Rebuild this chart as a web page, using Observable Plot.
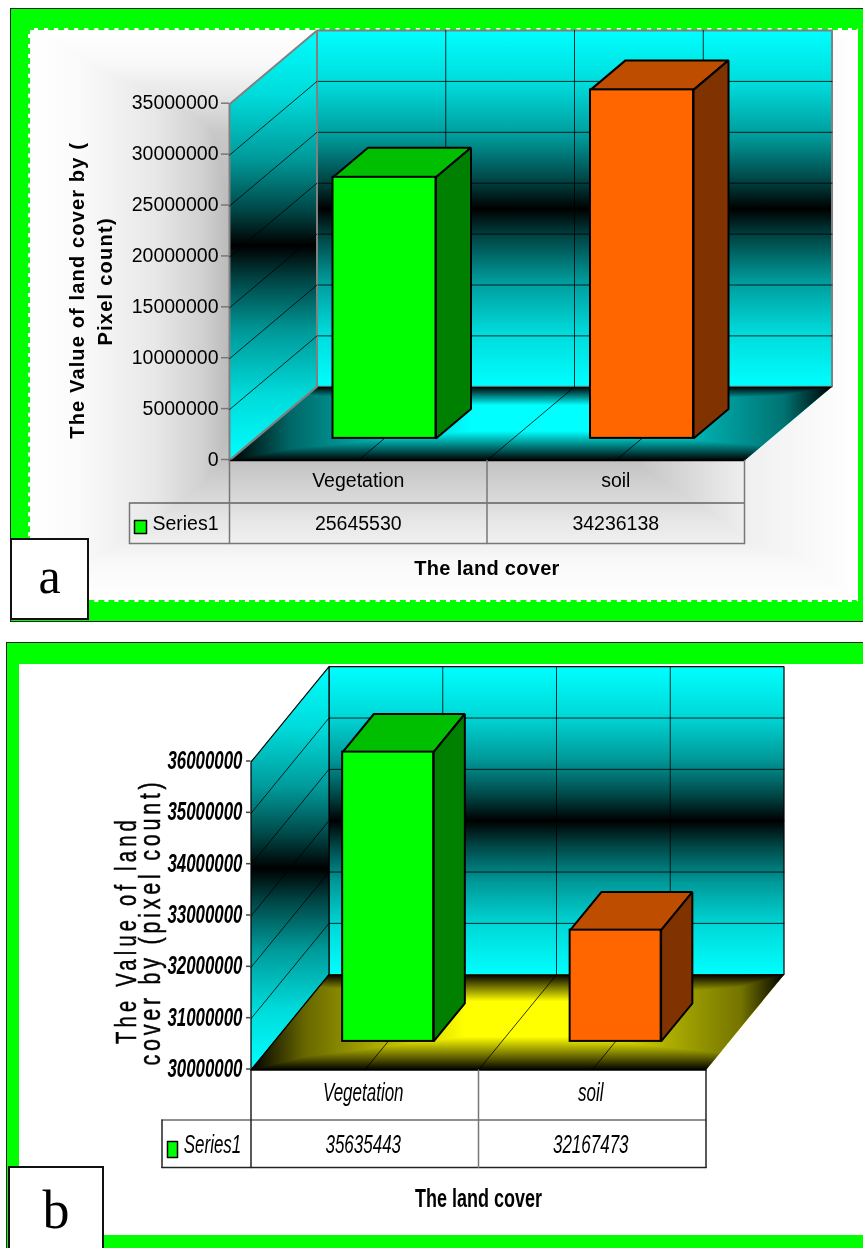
<!DOCTYPE html>
<html>
<head>
<meta charset="utf-8">
<script src="https://cdn.jsdelivr.net/npm/d3@7"></script>
<script src="https://cdn.jsdelivr.net/npm/@observablehq/plot@0.6"></script>
<style>
  html, body { margin: 0; padding: 0; background: #fff; }
  #page { position: relative; width: 863px; height: 1248px; overflow: hidden; }
  #page > * { position: absolute; box-sizing: border-box; }
  .frame { background: #00ff00; border: 1.5px solid #222; }
  #innerA {
    left: 28px; top: 28px; width: 830px; height: 574px;
    border: 2px dashed #00ff00;
    border-right: 2px solid #fff;
    background-image:
      linear-gradient(to bottom, #fff 0, #f8f8f8 6%, #e8e8e8 11%, #c8c8c8 18%, #bbb 30%, #bbb 70%, #c4c4c4 76%, #e6e6e6 86%, #f8f8f8 93%, #fff 100%),
      linear-gradient(to right, #fff 0, #fafafa 6%, #e8e8e8 15%, #d0d0d0 21%, #bbb 24%, #bbb 60%, #c0c0c0 72%, #f0f0f0 87%, #fff 100%);
    background-blend-mode: lighten;
  }
  #innerB { left: 19px; top: 664px; width: 844px; height: 571px; background: #fff; }
  .tag {
    background: #fff; border: 2px solid #111; text-align: center;
    font-family: "Liberation Serif", serif; color: #000;
  }
  svg.chart { position: absolute; left: 0; }
</style>
</head>
<body>
<div id="page">
  <div class="frame" style="left:10px;top:7.5px;width:870px;height:614px"></div>
  <div id="innerA"></div>
  <div class="frame" style="left:5.5px;top:642px;width:870px;height:620px"></div>
  <div id="innerB"></div>
</div>
<script>
// Land cover pixel counts for the two scenes
const categories = ["Vegetation", "soil"];
const seriesName = "Series1";
const valuesA = [25645530, 34236138];
const valuesB = [35635443, 32167473];
const ticksA = [0, 5000000, 10000000, 15000000, 20000000, 25000000, 30000000, 35000000];
const ticksB = [30000000, 31000000, 32000000, 33000000, 34000000, 35000000, 36000000];

const frontColors = ["#00ff00", "#ff6600"];
const topColors = ["#00bf00", "#bf4d00"];
const sideColors = ["#008000", "#803300"];

const wallStops = [[0, 1], [.15, .86], [.3, .6], [.42, .27], [.5, 0], [.58, .27], [.7, .6], [.85, .86], [1, 1]];
const floorAcrossStops = [[0, 0], [.1, .4], [.2, .6], [.4, 1], [.6, 1], [.8, .65], [.92, .45], [1, 0]];
const floorDownStopsA = [[0, 0], [.25, 1], [.6, 1], [1, 0]];
const floorDownStopsB = [[0, 0], [.28, 1], [.65, 1], [1, 0]];

// One gradient definition per surface, scaled from a base colour
function gradient(id, stops, rgb, vertical) {
  const ns = "http://www.w3.org/2000/svg";
  const g = document.createElementNS(ns, "linearGradient");
  g.setAttribute("id", id);
  g.setAttribute("x1", 0); g.setAttribute("y1", 0);
  g.setAttribute("x2", vertical ? 0 : 1); g.setAttribute("y2", vertical ? 1 : 0);
  for (const [o, k] of stops) {
    const s = document.createElementNS(ns, "stop");
    s.setAttribute("offset", o);
    s.setAttribute("stop-color", `rgb(${rgb.map((c) => Math.round(c * k)).join(",")})`);
    g.append(s);
  }
  return g;
}

function panel(cfg) {
  const {id, values, ticks, top, height, left, right, yBase, yTop, depthPx, floorRgb, edge, edgeWidth} = cfg;
  const [v0, v1] = [ticks[0], ticks[ticks.length - 1]];
  const pxPerCat = (right - left) / categories.length;
  const pxPerVal = (yBase - yTop) / (v1 - v0);
  const dX = depthPx[0] / pxPerCat;
  const dY = depthPx[1] / pxPerVal;

  // Oblique projection of (category position, value, depth) into scale units
  const P = (c, v, d = 0) => ({x: c + d * dX, y: v + d * dY});
  const poly = (pts, o) => Plot.line(pts, {x: "x", y: "y", curve: "linear-closed", ...o});
  const seg = (a, b, o) => Plot.line([a, b], {x: "x", y: "y", ...o});
  // Offsets below the floor and left of the wall, for the data table under the chart
  const below = (px) => v0 - px / pxPerVal;
  const leftOf = (px) => -px / pxPerCat;
  const n = categories.length;

  const defs = () => {
    const d = document.createElementNS("http://www.w3.org/2000/svg", "defs");
    d.append(
      gradient(id + "wall", wallStops, [0, 255, 255], true),
      gradient(id + "across", floorAcrossStops, floorRgb, false),
      gradient(id + "down", cfg.floorDown, floorRgb, true)
    );
    return d;
  };

  const wall = {stroke: edge, strokeWidth: edgeWidth, fill: `url(#${id}wall)`, strokeLinejoin: "miter"};
  const grid = {stroke: "#000", strokeWidth: 0.8};
  const floor = [P(0, v0), P(n, v0), P(n, v0, 1), P(0, v0, 1)];
  const inner = ticks.slice(1, -1);
  const bands = d3.range(1, 2 * n).map((k) => k / 2);

  const marks = [
    defs,
    // Walls and floor
    poly([P(0, v0, 1), P(n, v0, 1), P(n, v1, 1), P(0, v1, 1)], wall),
    ...bands.map((c) => seg(P(c, v0, 1), P(c, v1, 1), grid)),
    ...inner.map((t) => seg(P(0, t, 1), P(n, t, 1), grid)),
    poly([P(0, v0), P(0, v0, 1), P(0, v1, 1), P(0, v1)], wall),
    ...inner.map((t) => seg(P(0, t), P(0, t, 1), grid)),
    poly(floor, {fill: `url(#${id}across)`}),
    poly(floor, {fill: `url(#${id}down)`, mixBlendMode: "darken"}),
    seg(P(0, v0), P(0, v0, 1), {stroke: edge, strokeWidth: edgeWidth}),
    ...bands.map((c) => seg(P(c, v0), P(c, v0, 1), grid)),
    seg(P(0, v0), P(n, v0), {stroke: "#000", strokeWidth: 1.5}),
    // Data table below the floor
    seg({x: leftOf(cfg.keyCol), y: below(cfg.row1)}, {x: n, y: below(cfg.row1)}, {stroke: "#222", strokeWidth: 1.2}),
    seg({x: leftOf(cfg.keyCol), y: below(cfg.row2)}, {x: n, y: below(cfg.row2)}, {stroke: cfg.tableEdge, strokeWidth: 1.5}),
    seg({x: leftOf(cfg.keyCol), y: below(cfg.row1)}, {x: leftOf(cfg.keyCol), y: below(cfg.row2)}, {stroke: cfg.tableEdge, strokeWidth: 1.5}),
    ...d3.range(0, n + 1).map((c) => seg({x: c, y: v0}, {x: c, y: below(cfg.row2)}, {stroke: c === 1 ? "#777" : cfg.tableEdge, strokeWidth: 1.5})),
    poly([
      {x: leftOf(cfg.key[0]), y: below(cfg.key[2])}, {x: leftOf(cfg.key[1]), y: below(cfg.key[2])},
      {x: leftOf(cfg.key[1]), y: below(cfg.key[3])}, {x: leftOf(cfg.key[0]), y: below(cfg.key[3])}
    ], {fill: frontColors[0], stroke: "#000", strokeWidth: 1.5}),
    Plot.text(categories, {x: (d, i) => i + .5, y: () => v0, dx: cfg.cellDx, dy: cfg.catDy, text: (d) => d, className: "table-text", fontSize: cfg.fs, fontStyle: cfg.italic}),
    Plot.text(values, {x: (d, i) => i + .5, y: () => v0, dx: cfg.cellDx, dy: cfg.valDy, text: (d) => String(d), className: "table-text", fontSize: cfg.fs, fontStyle: cfg.italic}),
    Plot.text([seriesName], {x: () => 0, y: () => v0, dx: cfg.seriesDx, dy: cfg.valDy, text: (d) => d, className: "table-text", fontSize: cfg.fs, fontStyle: cfg.italic}),
    // Value axis and its titles
    Plot.axisY({ticks, tickSize: cfg.tickSize, tickPadding: cfg.tickPad, tickFormat: (d) => String(d), fontSize: cfg.fs, fontWeight: cfg.tickWeight, fontStyle: cfg.italic, stroke: cfg.tickColor, strokeWidth: 1.5, dy: -1, label: null}),
    ...cfg.titles.map((t, i) => Plot.text([t.text], {x: () => 0, y: () => (v0 + v1) / 2, dx: t.dx, dy: t.dy, rotate: -90, text: (d) => d, fontSize: cfg.titleFs, fontWeight: cfg.titleWeight, stroke: cfg.titleStroke, strokeWidth: .5, fill: "#000", className: "y-title-" + i})),
    Plot.text([cfg.xTitle], {x: () => n / 2, y: () => v0, dy: cfg.xTitleDy, text: (d) => d, fontSize: cfg.xTitleFs, fontWeight: "bold", className: "x-title"})
  ];

  // Columns, drawn back face first: top, side, then the front
  values.forEach((v, i) => {
    const [a, b] = [i + .3, i + .7];
    marks.push(
      poly([P(a, v, .3), P(b, v, .3), P(b, v, .7), P(a, v, .7)], {fill: topColors[i], stroke: "#000", strokeWidth: 2, strokeLinejoin: "miter"}),
      poly([P(b, v0, .3), P(b, v0, .7), P(b, v, .7), P(b, v, .3)], {fill: sideColors[i], stroke: "#000", strokeWidth: 2, strokeLinejoin: "miter"})
    );
  });
  marks.push(Plot.rect(values, {
    x1: (d, i) => P(i + .3, 0, .3).x,
    x2: (d, i) => P(i + .7, 0, .3).x,
    y1: () => P(0, v0, .3).y,
    y2: (d) => P(0, d, .3).y,
    fill: (d, i) => frontColors[i],
    stroke: "#000",
    strokeWidth: 2
  }));

  const svg = Plot.plot({
    width: 863,
    height,
    marginLeft: left,
    marginRight: 863 - right,
    marginTop: yTop - top,
    marginBottom: height - (yBase - top),
    x: {domain: [0, n], axis: null},
    y: {domain: [v0, v1]},
    color: {type: "identity"},
    style: {fontFamily: "'Liberation Sans', Arial, sans-serif", background: "transparent", overflow: "visible", color: "#000"},
    marks
  });
  svg.classList.add("chart");
  svg.style.top = top + "px";
  document.getElementById("page").append(svg);
  return svg;
}

// Adjusts glyph width and tracking of the text in one mark after it is in the page
function fitText(svg, selector, {k, px, spacing} = {}) {
  for (const el of svg.querySelectorAll(`${selector} text`)) {
    if (spacing != null) el.style.letterSpacing = spacing + "px";
    if (k == null && px == null) continue;
    const parts = el.querySelectorAll("tspan");
    for (const t of parts.length ? parts : [el]) {
      const len = t.getComputedTextLength();
      t.setAttribute("textLength", px ?? len * k);
      t.setAttribute("lengthAdjust", "spacingAndGlyphs");
    }
  }
}

const svgA = panel({
  id: "a", values: valuesA, ticks: ticksA, top: 0, height: 625,
  left: 229, right: 744, yBase: 460, yTop: 103.7, depthPx: [87.5, 73.7],
  floorRgb: [0, 255, 255], floorDown: floorDownStopsA,
  edge: "#808080", edgeWidth: 2, tableEdge: "#777", tickColor: "#777",
  keyCol: 100, row1: 42.5, row2: 83, key: [95, 83, 60, 73],
  fs: 19.5, italic: "normal", tickWeight: "normal", tickSize: 8, tickPad: 3,
  catDy: 20, valDy: 63, seriesDx: -44, cellDx: 0,
  titleFs: 20, titleWeight: "bold", titleStroke: "none",
  titles: [
    {text: "The Value of land cover by (", dx: -152, dy: 8},
    {text: "Pixel count)", dx: -124, dy: -1}
  ],
  xTitle: "The land cover", xTitleDy: 108, xTitleFs: 20
});
fitText(svgA, ".y-title-0", {spacing: 1.15});
fitText(svgA, ".y-title-1", {spacing: 1.25});
fitText(svgA, ".x-title", {spacing: 0.3});

const svgB = panel({
  id: "b", values: valuesB, ticks: ticksB, top: 636, height: 612,
  left: 250.5, right: 705.5, yBase: 1069.5, yTop: 761.5, depthPx: [78, 95.3],
  floorRgb: [255, 255, 0], floorDown: floorDownStopsB,
  edge: "#000", edgeWidth: 1.2, tableEdge: "#222", tickColor: "#444",
  keyCol: 89, row1: 50, row2: 97.5, key: [83.5, 73.5, 71.5, 87.5],
  fs: 25, italic: "italic", tickWeight: "bold", tickSize: 4.5, tickPad: 4,
  catDy: 23, valDy: 74.5, seriesDx: -38.5, cellDx: -1.5,
  titleFs: 29, titleWeight: "normal", titleStroke: "#000",
  titles: [
    {text: "The Value of land", dx: -124, dy: 14},
    {text: "cover by (pixel count)", dx: -100, dy: 6}
  ],
  xTitle: "The land cover", xTitleDy: 128.5, xTitleFs: 25
});
fitText(svgB, 'g[aria-label="y-axis tick label"]', {k: .675});
fitText(svgB, ".table-text", {k: .68});
fitText(svgB, ".x-title", {k: .72});
fitText(svgB, ".y-title-0", {spacing: 6, px: 228});
fitText(svgB, ".y-title-1", {spacing: 5, px: 287});

// Panel letters sit on top of the charts
const page = document.getElementById("page");
for (const [letter, style] of [
  ["a", "left:10px;top:538px;width:79px;height:81.5px;font-size:50px;line-height:72px"],
  ["b", "left:8px;top:1166px;width:96px;height:90px;font-size:54px;line-height:84px"]
]) {
  const tag = document.createElement("div");
  tag.className = "tag";
  tag.style.cssText = style;
  tag.textContent = letter;
  page.append(tag);
}
</script>
</body>
</html>
